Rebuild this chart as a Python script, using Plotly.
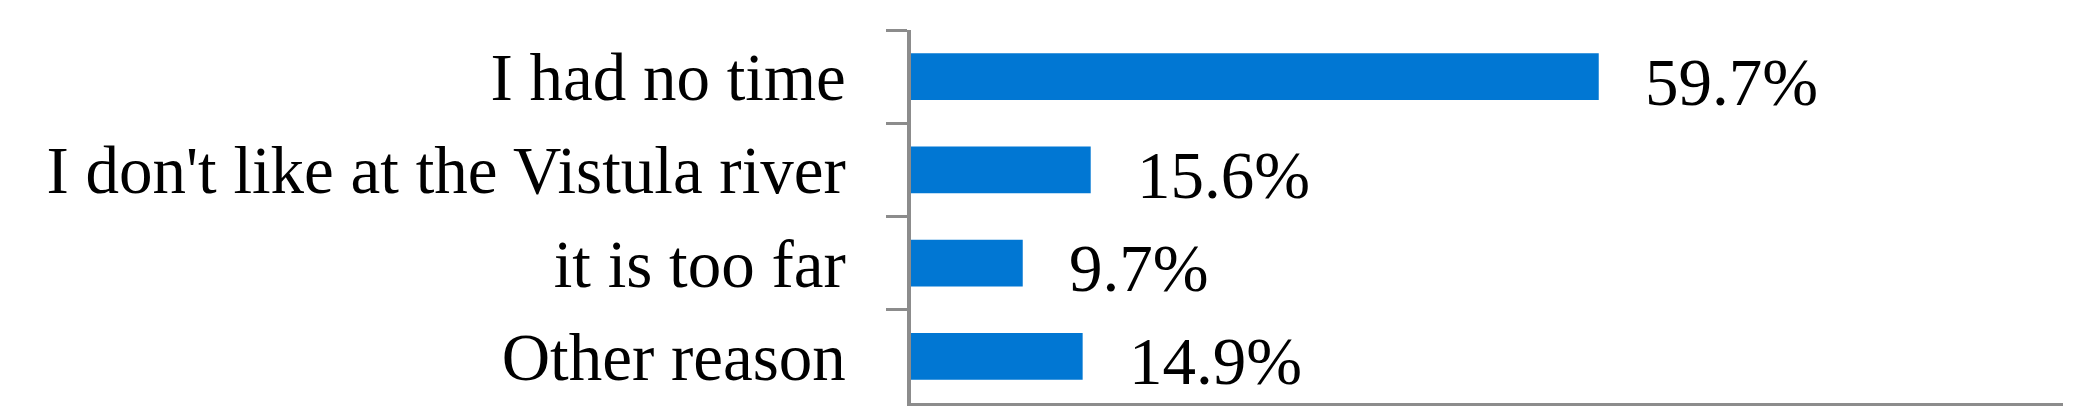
import plotly.graph_objects as go

# reasons, top to bottom
reasons = ["I had no time", "I don't like at the Vistula river", "it is too far", "Other reason"]
shares = [59.7, 15.6, 9.7, 14.9]
share_labels = ["59.7%", "15.6%", "9.7%", "14.9%"]

FONT = "Liberation Serif"
GREY = "#8c8c8c"

fig = go.Figure()
fig.add_trace(go.Bar(
    y=reasons, x=shares, orientation="h",
    marker=dict(color="#0177d3", line=dict(width=0)),
    hoverinfo="skip",
))

# value labels next to the bar ends
for r, v, t in zip(reasons, shares, share_labels):
    fig.add_annotation(x=v, y=r, text=t, showarrow=False,
                       xanchor="left", xshift=44, yshift=-5,
                       font=dict(family=FONT, size=67, color="#000000"))

# page body adds an 8px margin, so the figure is a bit smaller than the window
fig.update_layout(
    width=2083, height=412,
    margin=dict(l=903, r=28, t=22, b=17),
    plot_bgcolor="white", paper_bgcolor="white",
    bargap=0.5, showlegend=False,
    font=dict(family=FONT, size=67, color="#000000"),
)
fig.update_xaxes(range=[0, 100], showticklabels=False, showgrid=False,
                 zeroline=False, showline=True, linecolor=GREY, linewidth=2.5,
                 ticks="")
fig.update_yaxes(range=[3.5, -0.5], showgrid=False, zeroline=False,
                 showline=True, linecolor=GREY, linewidth=3.5,
                 ticks="outside", tickson="boundaries", ticklen=21,
                 tickwidth=3, tickcolor=GREY, ticklabelstandoff=48)

fig.write_html("out.html")
